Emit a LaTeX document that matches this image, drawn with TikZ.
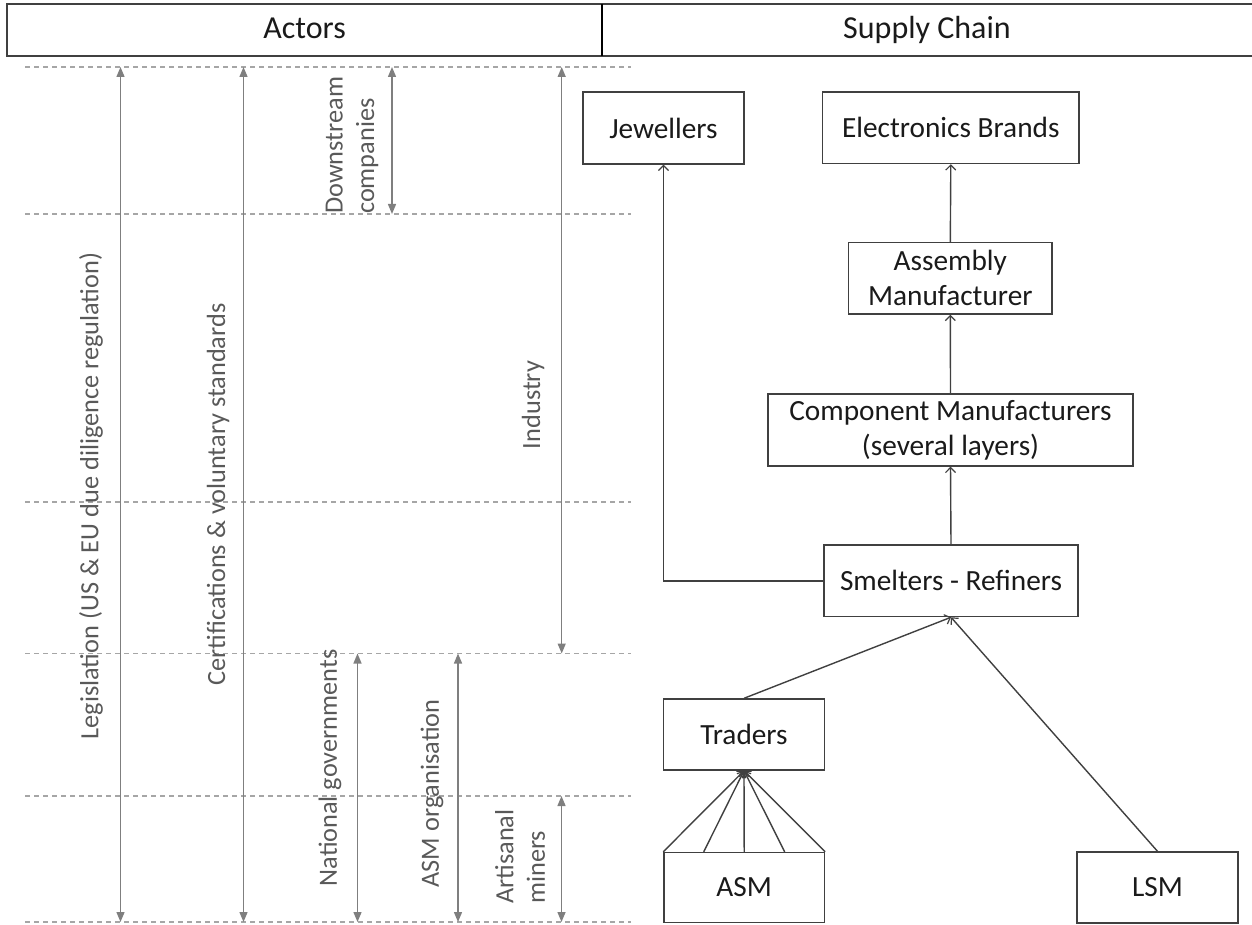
\documentclass[tikz,border=0pt]{standalone}
\usepackage{fontspec}
\setmainfont{Carlito}
\usetikzlibrary{arrows.meta,calc}
\definecolor{boxline}{HTML}{404040}
\definecolor{boxtext}{HTML}{1A1A1A}
\definecolor{actortext}{HTML}{595959}
\definecolor{actorline}{HTML}{7F7F7F}
\definecolor{guide}{HTML}{A6A6A6}
\begin{document}
\begin{tikzpicture}[x=1pt,y=-1pt,
  chainbox/.style={draw=boxline, line width=1.4pt, text=boxtext, inner sep=0pt,
    align=center, font=\fontsize{29.3}{35}\selectfont},
  flow/.style={draw=boxline, line width=1.4pt,
    -{Straight Barb[length=5pt,width=10pt,line width=1.2pt]}},
  actorspan/.style={draw=actorline, line width=1.4pt,
    {Triangle[length=10pt,width=8pt]}-{Triangle[length=10pt,width=8pt]}},
  guideline/.style={draw=guide, line width=1.3pt, dash pattern=on 5pt off 4pt},
  actor/.style={rotate=90, text=actortext, inner sep=0pt,
    font=\fontsize{26.3}{31.5}\selectfont},
  heading/.style={text=boxtext, inner sep=0pt, anchor=base, font=\fontsize{32}{38}\selectfont}
]
\useasboundingbox (0,0) rectangle (1252,925);

% ---- header row ----
\node[heading] (hdrA) at (304.5,38.5) {Actors};
\node[heading] (hdrB) at (927,38.5) {Supply Chain};
\draw[boxline, line width=2.2pt] (1260,4) -- (7,4) -- (7,55.7) -- (1260,55.7);
\draw[black, line width=1.2pt] (602,4) -- (602,55.7);

% ---- dashed level lines of the actor column ----
\foreach \n/\y in {0/67,1/214,2/502,3/653.5,4/796,5/922}{
  \coordinate (gl\n) at (25,\y);
  \coordinate (gr\n) at (631,\y);
  \draw[guideline] (gl\n) -- (gr\n);
}

% ---- spans of the actors ----
\coordinate (legT) at (120.5,67);   \coordinate (legB) at (120.5,922);
\coordinate (cerT) at (243.5,67);   \coordinate (cerB) at (243.5,922);
\coordinate (dwnT) at (392,67);     \coordinate (dwnB) at (392,214);
\coordinate (indT) at (561.7,67);   \coordinate (indB) at (561.7,653.5);
\coordinate (natT) at (357.5,653.5);\coordinate (natB) at (357.5,922);
\coordinate (orgT) at (458,653.5);  \coordinate (orgB) at (458,922);
\coordinate (artT) at (561.5,796);  \coordinate (artB) at (561.5,922);
\foreach \a in {leg,cer,dwn,ind,nat,org,art}
  \draw[actorspan] (\a T) -- (\a B);

\node[actor] (legL) at (91,496) {Legislation (US \& EU due diligence regulation)};
\node[actor] (cerL) at (218,494.5) {Certifications \& voluntary standards};
\node[actor, anchor=west, align=left] (dwnL) at (352,214) {Downstream\\companies};
\node[actor] (indL) at (533,405) {Industry};
\node[actor] (natL) at (330,768) {National governments};
\node[actor] (orgL) at (432,793.5) {ASM organisation};
\node[actor, anchor=west, align=left] (artL) at (520,904) {Artisanal\\miners};

% ---- supply chain boxes ----
\node[chainbox, minimum width=161pt, minimum height=72pt] (jew) at (663.5,128) {Jewellers};
\node[chainbox, minimum width=256.5pt, minimum height=71.5pt] (elec) at (950.8,127.8) {Electronics Brands};
\node[chainbox, minimum width=203.4pt, minimum height=71.3pt] (assem) at (950.3,278.4) {Assembly\\Manufacturer};
\node[chainbox, minimum width=365pt, minimum height=72pt] (comp) at (950.5,430) {Component Manufacturers\\(several layers)};
\node[chainbox, minimum width=254pt, minimum height=71.5pt] (smelt) at (951,580.8) {Smelters - Refiners};
\node[chainbox, minimum width=161pt, minimum height=71pt] (trad) at (744,734.5) {Traders};
\node[chainbox, minimum width=160.5pt, minimum height=70pt] (asmb) at (744.2,887.5) {ASM};
\node[chainbox, minimum width=161pt, minimum height=71pt] (lsm) at (1157.5,887.5) {LSM};

% ---- material flows ----
\draw[flow] (smelt.west) -| (jew.south);
\draw[flow] (smelt.north) -- (comp.south);
\draw[flow] (comp.north) -- (assem.south);
\draw[flow] (assem.north) -- (elec.south);
\draw[flow] (trad.north) -- (smelt.south);
\draw[flow] (lsm.north) -- (smelt.south);
\foreach \f in {0,0.25,0.5,0.75,1}
  \draw[flow] ($(asmb.north west)!\f!(asmb.north east)$) -- (trad.south);
\end{tikzpicture}
\end{document}
